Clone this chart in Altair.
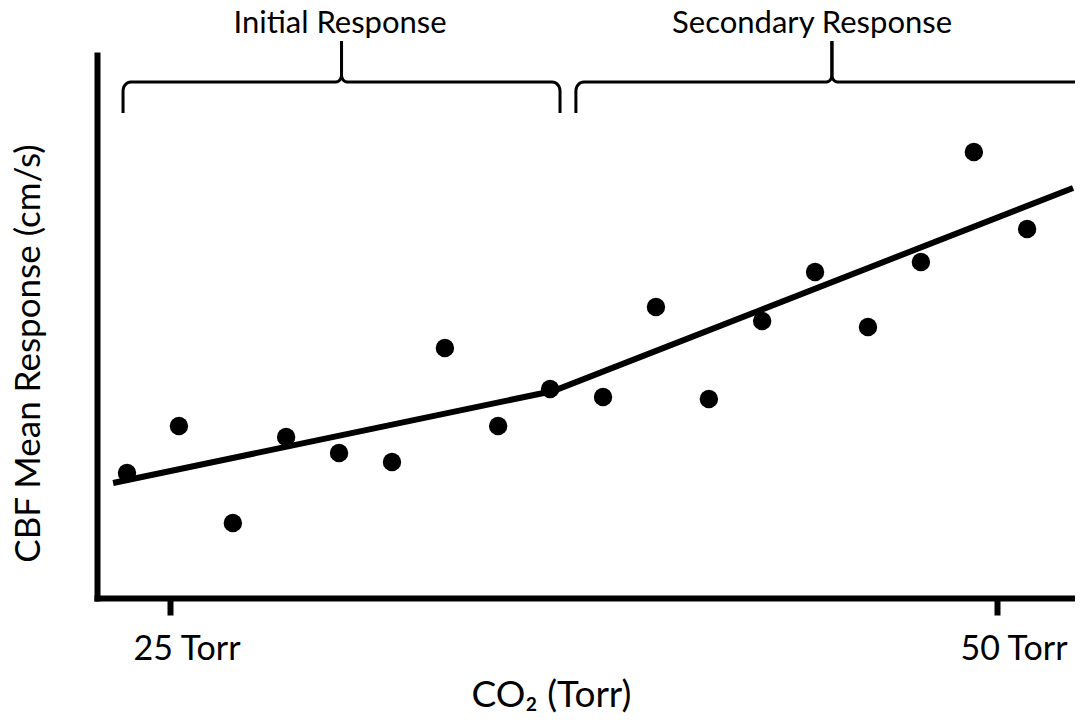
import altair as alt
import numpy as np
import pandas as pd

# ---- data ----
co2 = [23.70, 25.27, 26.90, 28.51, 30.11, 31.71, 33.31, 34.92, 36.49,
       38.09, 39.69, 41.29, 42.90, 44.50, 46.10, 47.70, 49.30, 50.91]
cbf = [12.5, 17.2, 7.5, 16.1, 14.5, 13.6, 25.0, 17.2, 20.9,
       20.1, 29.1, 19.9, 27.7, 32.6, 27.1, 33.6, 44.6, 36.9]

fit_x = [23.28, 36.58, 52.30]
fit_y = [11.5, 20.7, 41.0]

phase_names = ["Initial Response", "Secondary Response"]
phase_start = [23.58, 37.27]
phase_end = [36.79, 52.75]
phase_label_x = [30.14, 44.41]

x_ticks = [25, 50]

X_DOMAIN = [22.793, 52.358]
Y_DOMAIN = [0, 54.3]

# brace geometry (data units)
Y_END, Y_BAR, Y_TIP, Y_LABEL = 48.5, 51.6, 55.7, 56.5
RX_END, RY_END = 0.24, 0.9
RX_TIP, RY_TIP = 0.17, 0.7

rows = []
for name, x0, x1 in zip(phase_names, phase_start, phase_end):
    xm = (x0 + x1) / 2
    half = []
    half.append((x0, Y_END))
    half.append((x0, Y_BAR - RY_END))
    cx, cy = x0 + RX_END, Y_BAR - RY_END
    for t in np.linspace(np.pi, np.pi / 2, 8):
        half.append((cx + RX_END * np.cos(t), cy + RY_END * np.sin(t)))
    cx, cy = xm - RX_TIP, Y_BAR + RY_TIP
    for t in np.linspace(-np.pi / 2, 0, 8):
        half.append((cx + RX_TIP * np.cos(t), cy + RY_TIP * np.sin(t)))
    half.append((xm, Y_TIP))
    for side in ["L", "R"]:
        for i, (px, py) in enumerate(half):
            xx = px if side == "L" else x0 + x1 - px
            rows.append({"seg": name + side, "x": xx, "y": py, "o": i})
brace_df = pd.DataFrame(rows)

pts_df = pd.DataFrame({"co2": co2, "cbf": cbf})
fit_df = pd.DataFrame({"co2": fit_x, "cbf": fit_y})
lab_df = pd.DataFrame({"name": phase_names, "x": phase_label_x, "y": [Y_LABEL] * 2})

FONT = "Lato"

xscale = alt.Scale(domain=X_DOMAIN, nice=False, zero=False)
yscale = alt.Scale(domain=Y_DOMAIN, nice=False, zero=False)

xaxis = alt.Axis(
    values=x_ticks, labelExpr="datum.value + ' Torr'", grid=False,
    domainColor="black", domainWidth=6, domainCap="square",
    tickColor="black", tickWidth=6, tickSize=17,
    labelFont=FONT, labelFontSize=34, labelColor="black",
    labelAlign="left", labelOffset=-37, labelBaseline="alphabetic", labelPadding=44,
    title="CO₂ (Torr)", titleFont=FONT, titleFontSize=37, titleFontWeight="normal",
    titleColor="black", titleX=454, titleY=108, titleAlign="center",
    titleBaseline="alphabetic",
)
yaxis = alt.Axis(
    ticks=False, labels=False, grid=False,
    domainColor="black", domainWidth=6, domainCap="square",
    title="CBF Mean Response (cm/s)", titleFont=FONT, titleFontSize=35,
    titleFontWeight="normal", titleColor="black", titleAngle=270,
    titleX=-69, titleY=298, titleAlign="center", titleBaseline="middle",
)

points = alt.Chart(pts_df).mark_point(
    filled=True, shape="circle", size=340, color="black", opacity=1
).encode(
    x=alt.X("co2:Q", scale=xscale, axis=xaxis),
    y=alt.Y("cbf:Q", scale=yscale, axis=yaxis),
)

fit = alt.Chart(fit_df).mark_line(color="black", strokeWidth=6).encode(
    x=alt.X("co2:Q", scale=xscale),
    y=alt.Y("cbf:Q", scale=yscale),
)

braces = alt.Chart(brace_df).mark_line(color="black", strokeWidth=3).encode(
    x=alt.X("x:Q", scale=xscale),
    y=alt.Y("y:Q", scale=yscale),
    detail="seg:N",
    order="o:Q",
)

labels = alt.Chart(lab_df).mark_text(
    font=FONT, fontSize=31, color="black", baseline="alphabetic", align="center"
).encode(
    x=alt.X("x:Q", scale=xscale),
    y=alt.Y("y:Q", scale=yscale),
    text="name:N",
)

chart = alt.layer(points, fit, braces, labels).properties(
    width=978, height=543,
    background="white",
    autosize=alt.AutoSizeParams(type="none"),
    padding={"left": 89, "top": 47, "right": 0, "bottom": 115},
).configure_view(stroke="transparent", strokeWidth=0).configure_axis(
    grid=False
)

chart.save("out.html", embed_options={"renderer": "svg", "actions": False})
